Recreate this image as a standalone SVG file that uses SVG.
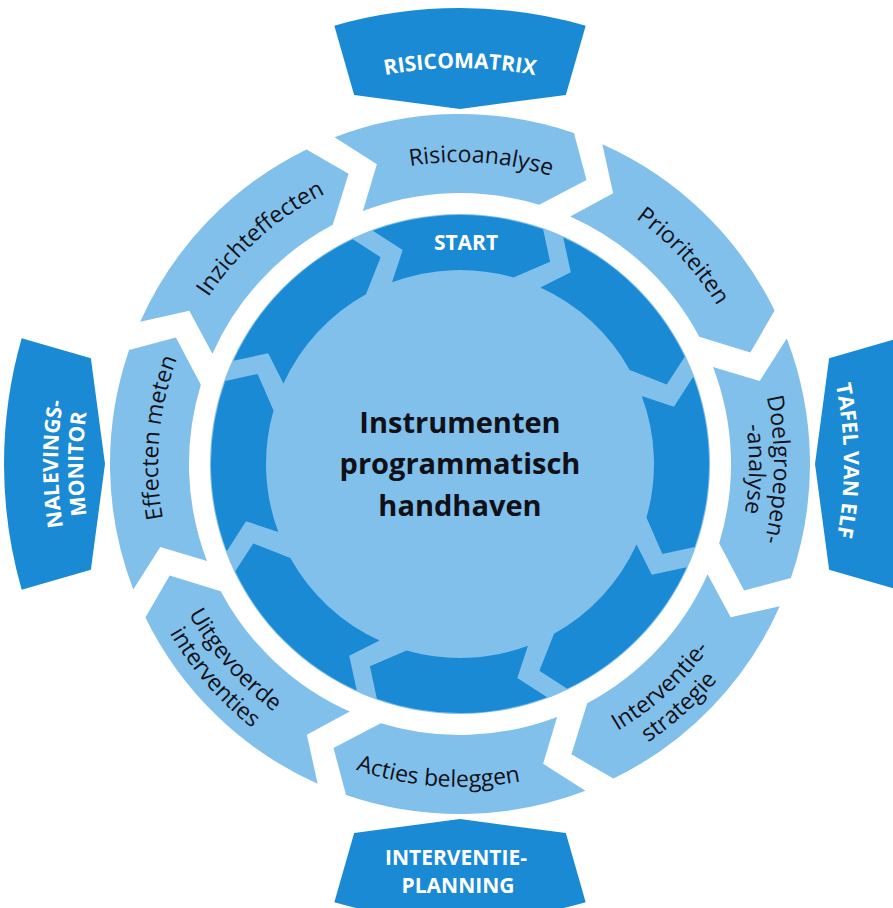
<svg xmlns="http://www.w3.org/2000/svg" width="893" height="908" viewBox="0 0 893 908">
<style>
.light{fill:#80c0ea}
.dark{fill:#1b8ad4}
.lbl{font-family:"Open Sans","Noto Sans","Liberation Sans",sans-serif;font-size:23px;fill:#101018}
.boxt{font-family:"Open Sans","Noto Sans","Liberation Sans",sans-serif;font-size:21px;font-weight:700;fill:#ffffff}
.ctr{font-family:"Open Sans","Noto Sans","Liberation Sans",sans-serif;font-size:29px;font-weight:700;fill:#101018}
</style>
<defs>
<path id="seg" d="M 334.57 137.25 A 350 350 0 0 1 573.95 133.07 L 586.50 179.89 L 539.23 204.84 A 271 271 0 0 0 362.88 211.00 L 376.89 164.31 Z"/>
<path id="arw" d="M 372.80 230.77 A 249 249 0 0 1 543.12 229.28 L 550.09 261.65 L 513.47 277.52 A 194 194 0 0 0 392.06 282.29 L 402.67 250.05 Z"/>
<path id="box" d="M 334.31 25.67 A 456 456 0 0 1 585.69 25.67 L 565.85 94.88 L 460 109 L 354.15 94.88 Z"/>
<path id="cw302" d="M 198.46 313 A 302 302 0 0 1 721.54 313"/>
<path id="cw314" d="M 188.07 307 A 314 314 0 0 1 731.93 307"/>
<path id="cw289" d="M 209.72 319.5 A 289 289 0 0 1 710.28 319.5"/>
<path id="ccw323" d="M 180.27 625.5 A 323 323 0 0 0 739.73 625.5"/>
<path id="ccw310" d="M 191.53 619 A 310 310 0 0 0 728.47 619"/>
<path id="ccw336" d="M 169.01 632 A 336 336 0 0 0 750.99 632"/>
<path id="cw396" d="M 117.05 266 A 396 396 0 0 1 802.95 266"/>
<path id="cw384" d="M 127.45 272 A 384 384 0 0 1 792.55 272"/>
<path id="cw402" d="M 111.86 263 A 402 402 0 0 1 808.14 263"/>
<path id="cw377" d="M 133.51 275.5 A 377 377 0 0 1 786.49 275.5"/>
</defs>
<rect width="893" height="908" fill="#ffffff"/>

<g id="hub">
<circle class="light" cx="460" cy="464" r="250"/>
</g>

<g id="connectors">
<use href="#arw" class="dark"/>
<use href="#arw" class="dark" transform="rotate(45 460 464)"/>
<use href="#arw" class="dark" transform="rotate(90 460 464)"/>
<use href="#arw" class="dark" transform="rotate(135 460 464)"/>
<use href="#arw" class="dark" transform="rotate(180 460 464)"/>
<use href="#arw" class="dark" transform="rotate(225 460 464)"/>
<use href="#arw" class="dark" transform="rotate(270 460 464)"/>
<use href="#arw" class="dark" transform="rotate(315 460 464)"/>
</g>

<g id="start">
<text class="boxt" x="466" y="250" text-anchor="middle" font-size="22">START</text>
</g>

<g id="center">
<text class="ctr" x="460" y="433" text-anchor="middle">Instrumenten</text>
<text class="ctr" x="460" y="474" text-anchor="middle">programmatisch</text>
<text class="ctr" x="460" y="516" text-anchor="middle">handhaven</text>
</g>

<g id="risicoanalyse">
<use href="#seg" class="light"/>
<text class="lbl" transform="rotate(4 460 464)"><textPath href="#cw302" startOffset="50%" text-anchor="middle">Risicoanalyse</textPath></text>
</g>
<g id="prioriteiten">
<use href="#seg" class="light" transform="rotate(45 460 464)"/>
<text class="lbl" transform="rotate(47 460 464)"><textPath href="#cw302" startOffset="50%" text-anchor="middle">Prioriteiten</textPath></text>
</g>
<g id="doelgroepenanalyse">
<use href="#seg" class="light" transform="rotate(90 460 464)"/>
<text class="lbl" transform="rotate(91 460 464)"><textPath href="#cw314" startOffset="50%" text-anchor="middle">Doelgroepen-</textPath></text>
<text class="lbl" transform="rotate(91 460 464)"><textPath href="#cw289" startOffset="50%" text-anchor="middle">-analyse</textPath></text>
</g>
<g id="interventiestrategie">
<use href="#seg" class="light" transform="rotate(135 460 464)"/>
<text class="lbl" transform="rotate(-42 460 464)"><textPath href="#ccw310" startOffset="50%" text-anchor="middle">Interventie-</textPath></text>
<text class="lbl" transform="rotate(-42 460 464)"><textPath href="#ccw336" startOffset="50%" text-anchor="middle">strategie</textPath></text>
</g>
<g id="actiesbeleggen">
<use href="#seg" class="light" transform="rotate(180 460 464)"/>
<text class="lbl" transform="rotate(4 460 464)"><textPath href="#ccw323" startOffset="50%" text-anchor="middle">Acties beleggen</textPath></text>
</g>
<g id="uitgevoerdeinterventies">
<use href="#seg" class="light" transform="rotate(225 460 464)"/>
<text class="lbl" transform="rotate(49 460 464)"><textPath href="#ccw310" startOffset="50%" text-anchor="middle">Uitgevoerde</textPath></text>
<text class="lbl" transform="rotate(49 460 464)"><textPath href="#ccw336" startOffset="50%" text-anchor="middle">interventies</textPath></text>
</g>
<g id="effectenmeten">
<use href="#seg" class="light" transform="rotate(270 460 464)"/>
<text class="lbl" transform="rotate(-85 460 464)"><textPath href="#cw302" startOffset="50%" text-anchor="middle">Effecten meten</textPath></text>
</g>
<g id="inzichteffecten">
<use href="#seg" class="light" transform="rotate(315 460 464)"/>
<text class="lbl" transform="rotate(-41.5 460 464)"><textPath href="#cw302" startOffset="50%" text-anchor="middle">Inzichteffecten</textPath></text>
</g>

<g id="risicomatrix">
<use href="#box" class="dark"/>
<text class="boxt"><textPath href="#cw396" startOffset="50%" text-anchor="middle">RISICOMATRIX</textPath></text>
</g>
<g id="tafelvanelf">
<use href="#box" class="dark" transform="rotate(90 460 464)"/>
<text class="boxt" transform="rotate(89.5 460 464)"><textPath href="#cw384" startOffset="50%" text-anchor="middle">TAFEL VAN ELF</textPath></text>
</g>
<g id="interventieplanning">
<use href="#box" class="dark" transform="rotate(180 460 464)"/>
<text class="boxt" font-size="20" x="456" y="865" text-anchor="middle">INTERVENTIE-</text>
<text class="boxt" font-size="20" x="458" y="893" text-anchor="middle">PLANNING</text>
</g>
<g id="nalevingsmonitor">
<use href="#box" class="dark" transform="rotate(270 460 464)"/>
<text class="boxt" font-size="20" transform="rotate(-90 460 464)"><textPath href="#cw402" startOffset="50%" text-anchor="middle">NALEVINGS-</textPath></text>
<text class="boxt" font-size="20" transform="rotate(-90 460 464)"><textPath href="#cw377" startOffset="50%" text-anchor="middle">MONITOR</textPath></text>
</g>
</svg>
